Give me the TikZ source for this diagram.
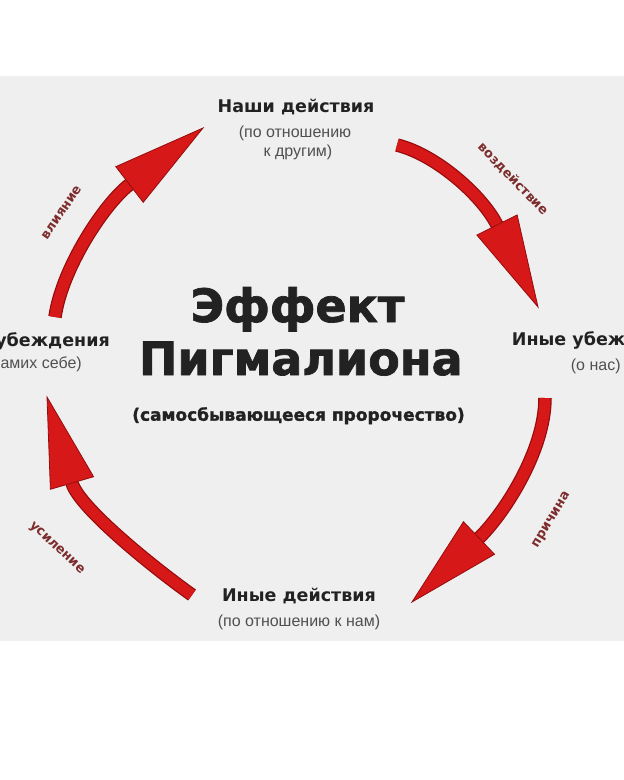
\documentclass[tikz,border=0pt]{standalone}
\usepackage{fontspec}
\setmainfont{Liberation Sans}
\newfontfamily\dejavu{DejaVu Sans}
\newfontfamily\dejavuheavy{DejaVu Sans}[FakeBold=1.6]
\usetikzlibrary{calc}
\definecolor{bggray}{RGB}{239,239,239}
\definecolor{txt}{RGB}{34,34,34}
\definecolor{subgray}{RGB}{80,80,80}
\definecolor{maroon}{RGB}{125,45,45}
\definecolor{arrred}{RGB}{214,24,24}
\definecolor{arredge}{RGB}{150,12,12}
\tikzset{
  lbl/.style={font=\dejavu\bfseries\fontsize{17.5}{20}\selectfont, text=txt, inner sep=0pt},
  sublbl/.style={font=\fontsize{16}{18.5}\selectfont, text=subgray, inner sep=0pt},
  titlelbl/.style={font=\dejavuheavy\bfseries\fontsize{46}{50}\selectfont, text=txt, inner sep=0pt},
  subtitlelbl/.style={font=\dejavuheavy\bfseries\fontsize{17}{20}\selectfont, text=txt, inner sep=0pt},
  arrlbl/.style={font=\dejavu\bfseries\fontsize{13}{15}\selectfont, text=maroon, inner sep=0pt},
  shaftout/.style={draw=arredge, line width=13.5pt},
  shaftin/.style={draw=arrred, line width=11pt},
  arrhead/.style={fill=arrred, draw=arredge, line width=0.8pt, line join=miter}
}
\begin{document}
\begin{tikzpicture}[x=1pt,y=-1pt]
\useasboundingbox (0,0) rectangle (624,780);
\clip (0,0) rectangle (624,780);
\fill[white] (0,0) rectangle (624,780);
\fill[bggray] (0,76) rectangle (624,641);

% labels
\node[lbl, anchor=base] (topA) at (296,112) {Наши действия};
\node[sublbl, anchor=base] (topB) at (295,137) {(по отношению};
\node[sublbl, anchor=base] (topC) at (298,156) {к другим)};

\node[lbl, anchor=base west] (rightA) at (511.7,345) {Иные убеждения};
\node[sublbl, anchor=base west] (rightB) at (570.7,370) {(о нас)};

\node[lbl, anchor=base] (botA) at (299,601.7) {Иные действия};
\node[sublbl, anchor=base] (botB) at (299,626.7) {(по отношению к нам)};

\node[lbl, anchor=base east] (leftA) at (110,346.7) {Наши убеждения};
\node[sublbl, anchor=base east] (leftB) at (82,368) {(о самих себе)};

% title
\node[titlelbl, anchor=base] (title1) at (297.5,322) {Эффект};
\node[titlelbl, anchor=base] (title2) at (300.8,375) {Пигмалиона};
\node[subtitlelbl, anchor=base] (title3) at (298.5,420.7) {(самосбывающееся пророчество)};

% arrow coordinates
\coordinate (s1) at (55,317);  \coordinate (b1) at (129.5,184.5); \coordinate (t1) at (203,128);
\coordinate (s2) at (397,145); \coordinate (b2) at (497,225);     \coordinate (t2) at (538,307);
\coordinate (s3) at (545,398); \coordinate (b3) at (479,538);     \coordinate (t3) at (412,602);
\coordinate (s4) at (192,595); \coordinate (b4) at (72,483);      \coordinate (t4) at (47,397);

\foreach \i/\cx/\cy/\d in {1/62/268/32, 2/437/155/32, 3/545/452/32, 4/150/565/25}{
  \draw[shaftout] (s\i) .. controls (\cx,\cy) and ($(b\i)!-\d pt!(t\i)$) .. (b\i);
  \draw[shaftin] (s\i) .. controls (\cx,\cy) and ($(b\i)!-\d pt!(t\i)$) .. (b\i);
  \filldraw[arrhead] (t\i) -- ($(b\i)!22.5pt!90:(t\i)$) -- ($(b\i)!22.5pt!-90:(t\i)$) -- cycle;
}

% arrow labels
\node[arrlbl, rotate=56] (l1) at (61.5,212.5) {влияние};
\node[arrlbl, rotate=-46] (l2) at (513,179) {воздействие};
\node[arrlbl, rotate=59] (l3) at (551.7,520) {причина};
\node[arrlbl, rotate=-43] (l4) at (56.5,548.5) {усиление};
\end{tikzpicture}
\end{document}
